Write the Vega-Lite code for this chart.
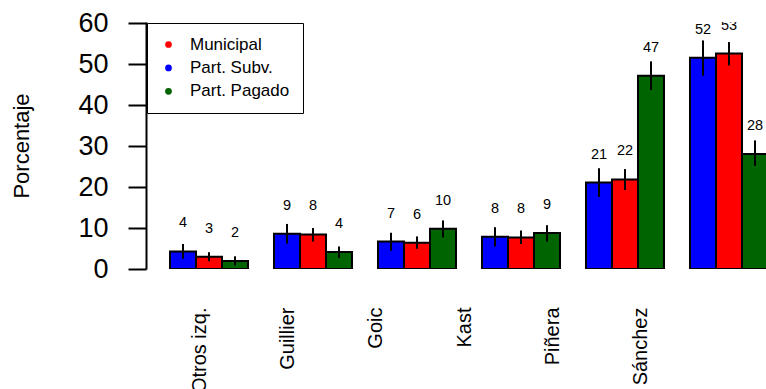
{
  "$schema": "https://vega.github.io/schema/vega-lite/v6.json",
  "width": 620,
  "height": 247,
  "autosize": {"type": "none"},
  "padding": {"left": 146, "top": 22, "right": 0, "bottom": 120},
  "config": {"view": {"stroke": null}, "font": "Liberation Sans", "text": {"font": "Liberation Sans"}},
  "data": {
    "values": [
      {"candidato": "Otros izq.", "dependencia": "Part. Subv.", "valor": 4.3, "lo": 2.5, "hi": 6.1},
      {"candidato": "Otros izq.", "dependencia": "Municipal", "valor": 3.0, "lo": 1.9, "hi": 4.1},
      {"candidato": "Otros izq.", "dependencia": "Part. Pagado", "valor": 1.95, "lo": 0.9, "hi": 3.1},
      {"candidato": "Guillier", "dependencia": "Part. Subv.", "valor": 8.6, "lo": 6.2, "hi": 11.0},
      {"candidato": "Guillier", "dependencia": "Municipal", "valor": 8.45, "lo": 6.7, "hi": 10.0},
      {"candidato": "Guillier", "dependencia": "Part. Pagado", "valor": 4.15, "lo": 2.7, "hi": 5.5},
      {"candidato": "Goic", "dependencia": "Part. Subv.", "valor": 6.7, "lo": 4.45, "hi": 8.85},
      {"candidato": "Goic", "dependencia": "Municipal", "valor": 6.4, "lo": 4.95, "hi": 7.95},
      {"candidato": "Goic", "dependencia": "Part. Pagado", "valor": 9.8, "lo": 7.7, "hi": 11.85},
      {"candidato": "Kast", "dependencia": "Part. Subv.", "valor": 7.9, "lo": 5.5, "hi": 10.2},
      {"candidato": "Kast", "dependencia": "Municipal", "valor": 7.7, "lo": 6.1, "hi": 9.4},
      {"candidato": "Kast", "dependencia": "Part. Pagado", "valor": 8.8, "lo": 6.7, "hi": 10.7},
      {"candidato": "Piñera", "dependencia": "Part. Subv.", "valor": 21.1, "lo": 17.6, "hi": 24.6},
      {"candidato": "Piñera", "dependencia": "Municipal", "valor": 21.85, "lo": 19.3, "hi": 24.4},
      {"candidato": "Piñera", "dependencia": "Part. Pagado", "valor": 47.2, "lo": 43.7, "hi": 50.7},
      {"candidato": "Sánchez", "dependencia": "Part. Subv.", "valor": 51.6, "lo": 47.2, "hi": 55.8},
      {"candidato": "Sánchez", "dependencia": "Municipal", "valor": 52.6, "lo": 49.7, "hi": 55.4},
      {"candidato": "Sánchez", "dependencia": "Part. Pagado", "valor": 28.1, "lo": 25.2, "hi": 31.4}
    ]
  },
  "layer": [
    {
      "encoding": {
        "x": {
          "field": "candidato", "type": "nominal",
          "sort": ["Otros izq.", "Guillier", "Goic", "Kast", "Piñera", "Sánchez"],
          "scale": {"range": [0, 646], "paddingInner": 0.25, "paddingOuter": 0.2308},
          "axis": null
        },
        "xOffset": {
          "field": "dependencia", "type": "nominal",
          "sort": ["Part. Subv.", "Municipal", "Part. Pagado"],
          "scale": {"paddingInner": 0, "paddingOuter": 0}
        }
      },
      "layer": [
        {
          "mark": {"type": "bar", "stroke": "black", "strokeWidth": 2, "clip": true},
          "encoding": {
            "y": {
              "field": "valor", "type": "quantitative",
              "scale": {"domain": [0, 60.3], "nice": false, "zero": true},
              "axis": {
                "values": [0, 10, 20, 30, 40, 50, 60],
                "grid": false,
                "tickSize": 18, "tickWidth": 2, "tickColor": "black",
                "domainWidth": 2, "domainColor": "black",
                "labelFontSize": 27, "labelColor": "black", "labelPadding": 20,
                "labelFont": "Liberation Sans",
                "title": "Porcentaje", "titleFontSize": 22, "titleFontWeight": "normal",
                "titleColor": "black", "titlePadding": 44, "titleFont": "Liberation Sans"
              }
            },
            "color": {
              "field": "dependencia", "type": "nominal",
              "scale": {"domain": ["Municipal", "Part. Subv.", "Part. Pagado"], "range": ["#FF0000", "#0000FF", "#006400"]},
              "legend": {
                "orient": "none", "legendX": 1, "legendY": 1, "title": null,
                "strokeColor": "black", "fillColor": "white",
                "padding": 13, "rowPadding": 5.4,
                "symbolType": "circle", "symbolSize": 45, "symbolStrokeWidth": 0, "symbolOpacity": 1,
                "labelFontSize": 17, "labelOffset": 13, "labelColor": "black", "labelFont": "Liberation Sans"
              }
            }
          }
        },
        {
          "mark": {"type": "rule", "strokeWidth": 2, "color": "black", "clip": true},
          "encoding": {
            "y": {"field": "lo", "type": "quantitative"},
            "y2": {"field": "hi"}
          }
        },
        {
          "mark": {"type": "text", "dy": -28, "fontSize": 14.5, "color": "black", "clip": true, "font": "Liberation Sans"},
          "encoding": {
            "y": {"field": "valor", "type": "quantitative"},
            "text": {"field": "valor", "type": "quantitative", "format": ".0f"}
          }
        }
      ]
    },
    {
      "mark": {"type": "point", "opacity": 0},
      "encoding": {
        "x": {
          "field": "candidato", "type": "nominal",
          "sort": ["Otros izq.", "Guillier", "Goic", "Kast", "Piñera", "Sánchez"],
          "scale": {"type": "point", "range": [0, 548], "padding": 0.6136},
          "axis": {
            "orient": "bottom", "labelAngle": -90, "labelAlign": "right", "labelBaseline": "middle",
            "labelFontSize": 20, "labelColor": "black",
            "labelFont": "Liberation Sans", "ticks": false, "domain": false, "grid": false,
            "labelPadding": 38, "title": null, "labelOverlap": false
          }
        }
      }
    }
  ],
  "resolve": {"scale": {"x": "independent"}}
}
